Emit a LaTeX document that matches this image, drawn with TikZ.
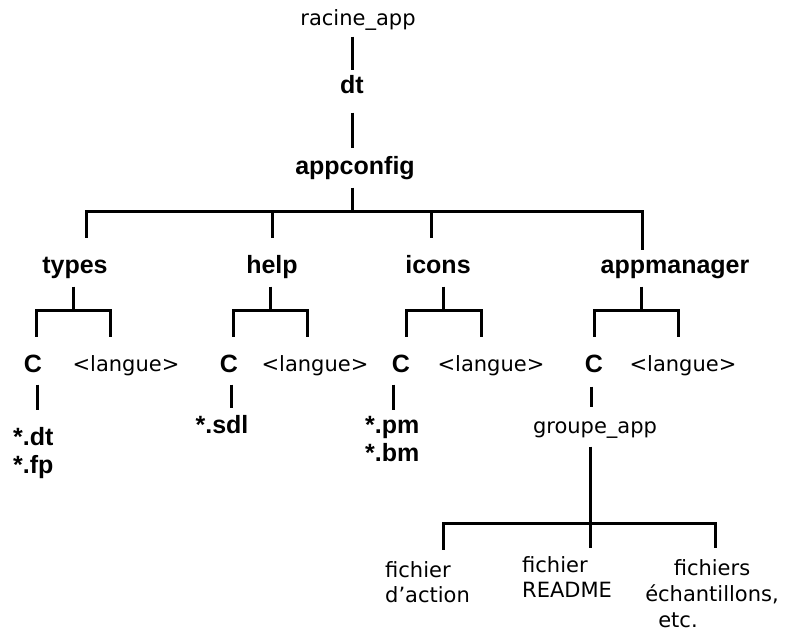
\documentclass[tikz,border=0pt]{standalone}
\usepackage{fontspec}
\setmainfont{Liberation Sans}
\newfontfamily\thinfont{DejaVu Sans}

\begin{document}
\begin{tikzpicture}[x=1pt,y=-1pt,
  heavy/.style={font=\bfseries\fontsize{25}{28}\selectfont, inner sep=0pt, text height=18pt, text depth=5pt},
  heavylines/.style={font=\bfseries\fontsize{25}{28}\selectfont, inner sep=0pt, align=left},
  light/.style={font=\thinfont\fontsize{21}{25}\selectfont, inner sep=0pt, text height=16pt, text depth=5pt},
  lightlines/.style={font=\thinfont\fontsize{21}{25}\selectfont, inner sep=0pt, align=left},
  link/.style={line width=3pt}]
\useasboundingbox (0,0) rectangle (787,633);

% top of the tree
\node[light] (racine) at (358,20) {racine\_app};
\node[heavy] (dt) at (352,87) {dt};
\node[heavy] (appconfig) at (355,168) {appconfig};
\draw[link, shorten <=6pt, shorten >=5pt] (racine.south -| dt.north) -- (dt.north);
\draw[link, shorten <=14pt, shorten >=8pt] (dt.south) -- (appconfig.north -| dt.south);

% first level
\coordinate (fork) at (352,211);
\draw[link, shorten <=8pt] (appconfig.south -| fork) -- (fork);
\node[heavy] (types) at (75,267) {types};
\node[heavy] (help) at (272,267) {help};
\node[heavy] (icons) at (438,267) {icons};
\node[heavy] (appmanager) at (675,267) {appmanager};
\draw[link, shorten >=17pt] (fork) -| ([xshift=11pt]types.north);
\draw[link, shorten >=17pt] (fork) -| (help.north);
\draw[link, shorten >=17pt] (fork) -| ([xshift=-7pt]icons.north);
\draw[link, shorten >=5pt] (fork) -| ([xshift=-33pt]appmanager.north);

% second level
\node[heavy] (Ct) at (33,366) {C};
\node[light] (Lt) at (126,366) {<langue>};
\coordinate (fork-t) at (73,310);
\draw[link, shorten <=8pt] (types.south -| fork-t) -- (fork-t);
\draw[link, shorten >=17pt] (fork-t) -| ([xshift=3pt]Ct.north);
\draw[link, shorten >=18pt] (fork-t) -| ([xshift=-16pt]Lt.north);

\node[heavy] (Ch) at (229,366) {C};
\node[light] (Lh) at (315,366) {<langue>};
\coordinate (fork-h) at (270,310);
\draw[link, shorten <=8pt] (help.south -| fork-h) -- (fork-h);
\draw[link, shorten >=17pt] (fork-h) -| ([xshift=4pt]Ch.north);
\draw[link, shorten >=18pt] (fork-h) -| ([xshift=-8pt]Lh.north);

\node[heavy] (Ci) at (401,366) {C};
\node[light] (Li) at (491,366) {<langue>};
\coordinate (fork-i) at (443,310);
\draw[link, shorten <=8pt] (icons.south -| fork-i) -- (fork-i);
\draw[link, shorten >=17pt] (fork-i) -| ([xshift=5pt]Ci.north);
\draw[link, shorten >=18pt] (fork-i) -| ([xshift=-10pt]Li.north);

\node[heavy] (Ca) at (594,366) {C};
\node[light] (La) at (683,366) {<langue>};
\coordinate (fork-a) at (641,310);
\draw[link, shorten <=8pt] (appmanager.south -| fork-a) -- (fork-a);
\draw[link, shorten >=17pt] (fork-a) -| (Ca.north);
\draw[link, shorten >=18pt] (fork-a) -| ([xshift=-5pt]La.north);

% third level
\node[heavylines, anchor=north west] (ft) at (13,427) {*.dt\\*.fp};
\node[heavy] (sdl) at (222,427) {*.sdl};
\node[heavylines, anchor=north west] (pm) at (365,416) {*.pm\\*.bm};
\node[light] (grp) at (595,428) {groupe\_app};
\coordinate (stem-t) at ([xshift=4pt]Ct.south);
\coordinate (stem-h) at ([xshift=2pt]Ch.south);
\coordinate (stem-i) at ([xshift=-8pt]Ci.south);
\coordinate (stem-a) at ([xshift=-3pt]Ca.south);
\draw[link, shorten <=7pt, shorten >=17pt] (stem-t) -- (stem-t |- ft.north);
\draw[link, shorten <=7pt, shorten >=7pt] (stem-h) -- (stem-h |- sdl.north);
\draw[link, shorten <=7pt, shorten >=6pt] (stem-i) -- (stem-i |- pm.north);
\draw[link, shorten <=9pt, shorten >=10pt] (stem-a) -- (stem-a |- grp.north);

% files of groupe_app
\coordinate (fork-g) at (590,523);
\draw[link, shorten <=8pt] (grp.south -| fork-g) -- (fork-g);
\node[lightlines, anchor=north west] (act) at (385,561) {fichier\\d’action};
\node[lightlines, anchor=north west] (readme) at (522,556) {fichier\\README};
\node[lightlines, font=\thinfont\fontsize{21}{26}\selectfont, align=center, anchor=north] (samples) at (712,559) {fichiers\\échantillons,\\etc.\hspace*{68pt}};
\draw[link, shorten >=11pt] (fork-g) -| ([xshift=58pt]act.north west);
\draw[link, shorten >=8pt] (fork-g) -- (fork-g |- readme.north);
\draw[link, shorten >=11pt] (fork-g) -| ([xshift=3pt]samples.north);
\end{tikzpicture}
\end{document}
